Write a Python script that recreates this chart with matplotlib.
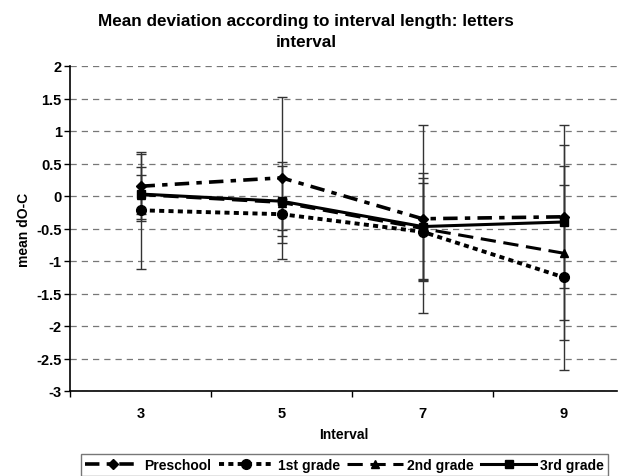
import matplotlib
matplotlib.use("Agg")
import matplotlib.pyplot as plt
from matplotlib.ticker import FixedLocator

plt.rcParams['font.family'] = ['Liberation Sans', 'DejaVu Sans']
plt.rcParams['font.weight'] = 'bold'

# Data
intervals = ["3", "5", "7", "9"]
preschool = [0.15, 0.28, -0.35, -0.32]
first_grade = [-0.22, -0.28, -0.55, -1.25]
second_grade = [0.02, -0.10, -0.50, -0.88]
third_grade = [0.03, -0.08, -0.47, -0.40]

preschool_err = [0.50, 1.25, 1.45, 1.10]
first_err = [0.90, 0.24, 0.75, 1.42]
second_err = [0.30, 0.63, 0.77, 1.34]
third_err = [0.42, 0.54, 0.82, 1.50]

series = [
    ("Preschool", preschool, preschool_err, "D", (0, (4, 2, 1.5, 2)), 2.6, 5),
    ("1st grade", first_grade, first_err, "o", (0, (1.3, 1.1)), 2.8, 7),
    ("2nd grade", second_grade, second_err, "^", (0, (5, 2.5)), 2.2, 6),
    ("3rd grade", third_grade, third_err, "s", "-", 2.2, 6),
]

fig = plt.figure(figsize=(6.22, 4.77), dpi=100)
ax = fig.add_axes([70 / 622, 85 / 477, 547 / 622, 325 / 477])

x = range(len(intervals))
handles = []
for name, vals, errs, marker, ls, lw, ms in series:
    ax.errorbar(x, vals, yerr=errs, fmt="none", ecolor="#333333",
                elinewidth=1, capsize=3.5, capthick=1, zorder=2)
    line, = ax.plot(x, vals, color="black", linestyle=ls, linewidth=lw,
                    marker=marker, markersize=ms, markerfacecolor="black",
                    markeredgecolor="black", label=name, zorder=3)
    handles.append(line)

ax.set_ylim(-3, 2)
ax.set_xlim(-0.5, (617 - 70) / 141 - 0.5)
ax.set_yticks([2, 1.5, 1, 0.5, 0, -0.5, -1, -1.5, -2, -2.5, -3])
ax.set_yticklabels(["2", "1.5", "1", "0.5", "0", "-0.5", "-1", "-1.5", "-2", "-2.5", "-3"])
ax.set_xticks(list(x))
ax.set_xticklabels(intervals)
ax.xaxis.set_minor_locator(FixedLocator([-0.5, 0.5, 1.5, 2.5]))
ax.tick_params(axis="x", which="major", length=0, pad=11, labelsize=10.5)
ax.tick_params(axis="x", which="minor", length=4, direction="out", width=1)
ax.tick_params(axis="y", length=4, direction="out", width=1, labelsize=10.5, pad=2)

ax.yaxis.grid(True, linestyle=(0, (5, 4)), color="#777777", linewidth=0.9)
ax.set_axisbelow(True)
for side in ["top", "right"]:
    ax.spines[side].set_visible(False)
for side in ["left", "bottom"]:
    ax.spines[side].set_linewidth(1.2)

ax.set_xlabel("Interval", fontsize=10, fontweight="bold", labelpad=5)
ax.set_ylabel("mean dO-C", fontsize=10, fontweight="bold", labelpad=4)

fig.text(0.492, 0.97, "Mean deviation according to interval length: letters\ninterval",
         ha="center", va="top", fontsize=12.3, fontweight="bold", linespacing=1.5)

leg = fig.legend(handles=handles, loc="upper center", bbox_to_anchor=(0.554, 0.047),
                 ncol=4, frameon=True, fancybox=False, fontsize=10, handlelength=4,
                 columnspacing=0.5, handletextpad=0.3, borderpad=0.3, borderaxespad=0)
leg.get_frame().set_edgecolor("#555555")
leg.get_frame().set_linewidth(1)

fig.savefig("out.png", dpi=100)
